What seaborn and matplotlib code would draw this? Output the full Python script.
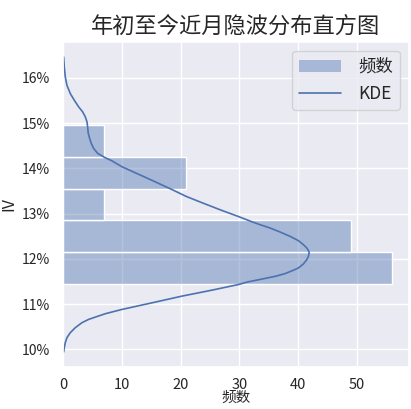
import matplotlib
matplotlib.use("Agg")
import matplotlib.pyplot as plt
from matplotlib.patches import Patch
from matplotlib.lines import Line2D
import seaborn as sns

# ---- data ----
bin_edges = [11.45, 12.152, 12.854, 13.556, 14.258, 14.96]   # IV (%)
bin_counts = [56, 49, 7, 21, 7]                               # 频数

kde_iv = [9.943, 10.039, 10.149, 10.259, 10.369, 10.480, 10.590, 10.663, 10.788, 10.883,
          11.045, 11.177, 11.309, 11.434, 11.49, 11.54, 11.617, 11.676, 11.750, 11.801,
          11.889, 11.985, 12.058, 12.132, 12.168, 12.242, 12.315, 12.403, 12.498, 12.594,
          12.682, 12.756, 12.829, 12.94, 13.086, 13.23, 13.38, 13.53, 13.71, 14.04,
          14.17, 14.25, 14.334, 14.444, 14.554, 14.665, 14.775, 14.921, 15.031, 15.142,
          15.252, 15.362, 15.509, 15.656, 15.839, 16.023, 16.243, 16.463]
kde_count = [0.11, 0.22, 0.39, 0.67, 1.24, 2.09, 3.23, 4.36, 7.19, 10.03,
             15.70, 20.23, 25.33, 29.87, 31.4, 33.3, 36.2, 37.81, 39.22, 40.07,
             40.92, 41.49, 41.77, 41.89, 41.83, 41.49, 40.92, 40.07, 38.66, 36.96,
             35.26, 33.55, 32.0, 29.8, 26.75, 23.9, 21.0, 18.6, 15.6, 10.0,
             8.3, 7.0, 5.89, 5.21, 4.81, 4.53, 4.30, 4.19, 4.08, 3.79,
             3.34, 2.66, 1.92, 1.24, 0.67, 0.39, 0.22, 0.11]

y_ticks = [10, 11, 12, 13, 14, 15, 16]
x_ticks = [0, 10, 20, 30, 40, 50]
title = "年初至今近月隐波分布直方图"
x_label = "频数"
y_label = "IV"
legend_labels = ["频数", "KDE"]

# ---- style ----
sns.set_theme(style="darkgrid")
plt.rcParams['font.family'] = ['Noto Sans CJK SC', 'DejaVu Sans']
plt.rcParams['axes.unicode_minus'] = False

blue = sns.color_palette()[0]

fig = plt.figure(figsize=(4.11, 4.09), dpi=100)
ax = fig.add_axes([63 / 411, 1 - 366.7 / 409, (408.5 - 63) / 411, (366.7 - 42.3) / 409])

centers = [(bin_edges[i] + bin_edges[i + 1]) / 2 for i in range(len(bin_counts))]
sns.histplot(y=centers, weights=bin_counts, bins=bin_edges, ax=ax,
             color=blue, alpha=0.42, edgecolor="white", linewidth=1.0)
sns.lineplot(x=kde_count, y=kde_iv, orient="y", sort=True, estimator=None,
             ax=ax, color=blue, linewidth=1.2)

ax.set_yticks(y_ticks)
ax.set_yticklabels([f"{v}%" for v in y_ticks], fontsize=10)
ax.set_xticks(x_ticks)
ax.set_xticklabels([str(v) for v in x_ticks], fontsize=10.5)
ax.tick_params(axis="x", pad=2)
ax.set_xlabel(x_label, fontsize=10.5, labelpad=-1)
ax.set_ylabel(y_label, fontsize=11.5, labelpad=3)
ax.set_title(title, fontsize=16)

handles = [Patch(facecolor=blue, alpha=0.42, edgecolor="none"),
           Line2D([0], [0], color=blue, linewidth=1.2)]
ax.legend(handles, legend_labels, loc="upper right", fontsize=12.5,
          handlelength=2.4, handletextpad=1.0)

fig.savefig("out.png", dpi=100)
